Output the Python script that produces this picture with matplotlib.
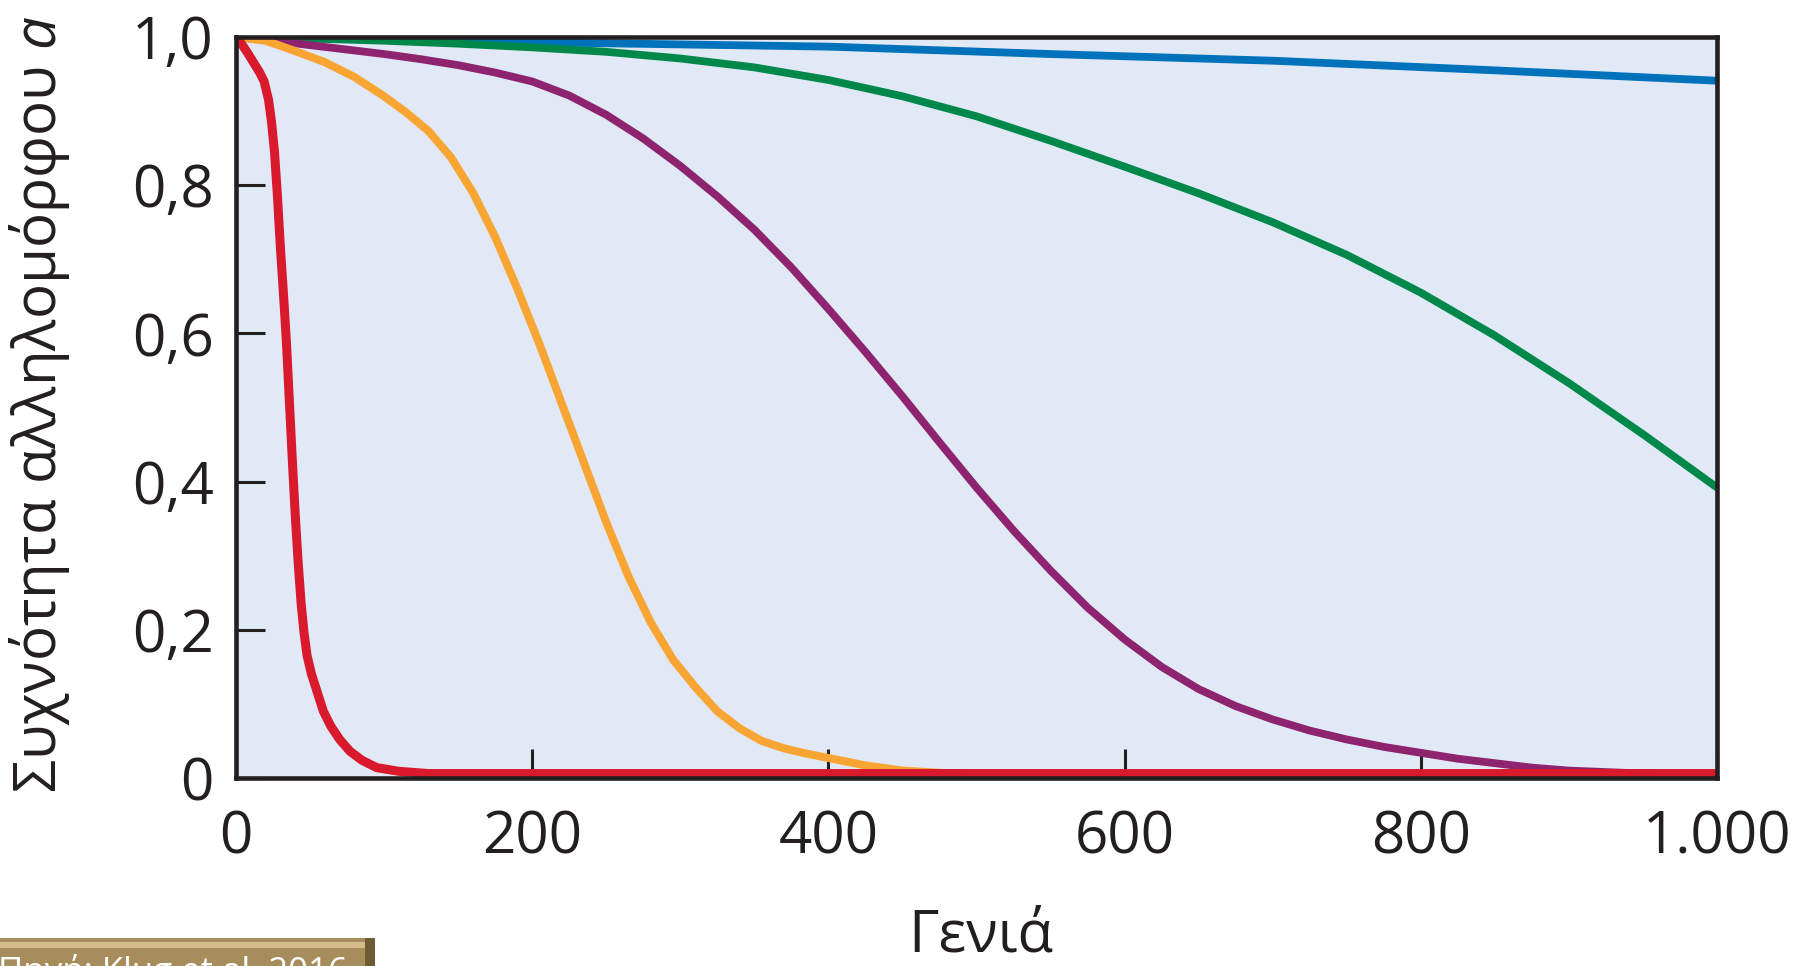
import numpy as np
import matplotlib
matplotlib.use("Agg")
import matplotlib.pyplot as plt
from matplotlib.patches import Rectangle

plt.rcParams['font.family'] = ['Open Sans', 'DejaVu Sans']
plt.rcParams['mathtext.fontset'] = 'custom'
plt.rcParams['mathtext.it'] = 'Open Sans:italic'
plt.rcParams['mathtext.rm'] = 'Open Sans'

# generations / allele frequency
blue_x = [0, 200, 400, 550, 700, 850, 1000]
blue_y = [1.0, 0.993, 0.987, 0.977, 0.968, 0.955, 0.941]

green_x = [0, 50, 100, 150, 200, 250, 300, 350, 400, 450, 500, 550, 600, 650, 700,
           750, 800, 850, 900, 950, 1000]
green_y = [1.0, 0.998, 0.995, 0.991, 0.986, 0.98, 0.971, 0.959, 0.942, 0.92, 0.893,
           0.86, 0.825, 0.789, 0.75, 0.706, 0.655, 0.597, 0.533, 0.464, 0.392]

purple_x = [0, 25, 50, 75, 100, 125, 150, 175, 200, 225, 250, 275, 300, 325, 350, 375,
            400, 425, 450, 475, 500, 525, 550, 575, 600, 625, 650, 675, 700, 725, 750,
            775, 800, 825, 850, 875, 900, 950, 1000]
purple_y = [1.0, 0.995, 0.989, 0.983, 0.977, 0.97, 0.962, 0.952, 0.94, 0.921, 0.895,
            0.863, 0.826, 0.785, 0.74, 0.689, 0.633, 0.575, 0.515, 0.453, 0.392, 0.334,
            0.28, 0.23, 0.187, 0.15, 0.12, 0.097, 0.079, 0.064, 0.052, 0.042, 0.034,
            0.026, 0.02, 0.014, 0.01, 0.006, 0.004]

orange_x = [0, 20, 40, 60, 80, 100, 115, 130, 145, 160, 175, 190, 205, 220, 235, 250,
            265, 280, 295, 310, 325, 340, 355, 370, 385, 400, 425, 450, 475, 500, 550, 1000]
orange_y = [1.0, 0.995, 0.981, 0.966, 0.946, 0.92, 0.898, 0.873, 0.838, 0.79, 0.73,
            0.66, 0.585, 0.505, 0.425, 0.345, 0.272, 0.21, 0.16, 0.123, 0.09, 0.067,
            0.05, 0.04, 0.033, 0.027, 0.017, 0.01, 0.007, 0.005, 0.004, 0.004]

red_x = [0, 4, 8, 12, 16, 19, 22, 24, 26, 28, 30, 32, 34, 36, 38, 40, 42, 44, 46, 48,
         51, 55, 59, 64, 70, 77, 85, 95, 110, 130, 1000]
red_y = [1.0, 0.99, 0.978, 0.965, 0.952, 0.94, 0.915, 0.885, 0.845, 0.785, 0.715, 0.655,
         0.59, 0.51, 0.43, 0.355, 0.29, 0.235, 0.195, 0.165, 0.14, 0.115, 0.09, 0.07,
         0.052, 0.036, 0.024, 0.014, 0.009, 0.006, 0.006]

xticks = [0, 200, 400, 600, 800, 1000]
xlabels = ["0", "200", "400", "600", "800", "1.000"]
yticks = [0, 0.2, 0.4, 0.6, 0.8, 1.0]
ylabels = ["0", "0,2", "0,4", "0,6", "0,8", "1,0"]

W, H = 1812, 966
fig = plt.figure(figsize=(W / 100, H / 100), dpi=100)
ax = fig.add_axes([236 / W, 1 - 778 / H, (1717 - 236) / W, (778 - 37) / H])
ax.set_facecolor("#E1E9F6")

style = dict(solid_capstyle="butt", solid_joinstyle="round")
ax.plot(blue_x, blue_y, color="#0072BC", lw=5.6, **style)
ax.plot(green_x, green_y, color="#00884A", lw=5.6, **style)
ax.plot(purple_x, purple_y, color="#8E2470", lw=5.6, **style)
ax.plot(orange_x, orange_y, color="#F9A533", lw=5.8, **style)
ax.plot(red_x, red_y, color="#D9192C", lw=6.5, **style)

ax.set_xlim(0, 1000)
ax.set_ylim(0, 1.0)
ax.set_xticks(xticks)
ax.set_xticklabels(xlabels)
ax.set_yticks(yticks)
ax.set_yticklabels(ylabels)
ax.tick_params(direction="in", length=21, width=2.2, color="#231F20",
               labelsize=42, labelcolor="#231F20")
ax.tick_params(axis="x", pad=22)
ax.tick_params(axis="y", pad=16)
for s in ax.spines.values():
    s.set_linewidth(3.3)
    s.set_color("#231F20")
    s.set_zorder(5)

fig.text(40 / W, 1 - 404 / H, "Συχνότητα αλληλομόρφου $a$", rotation=90,
         ha="center", va="center", fontsize=42, color="#231F20")
fig.text(981 / W, 1 - 936 / H, "Γενιά", ha="center", va="center",
         fontsize=42, color="#231F20")

# source badge, cut by the lower edge
fig.patches.append(Rectangle((0, 0), 375 / W, 28 / H, transform=fig.transFigure,
                             facecolor="#A88D5C", edgecolor="none"))
fig.patches.append(Rectangle((0, 18 / H), 372 / W, 6 / H, transform=fig.transFigure,
                             facecolor="#D3BC8A", edgecolor="none"))
fig.patches.append(Rectangle((365 / W, 0), 10 / W, 28 / H, transform=fig.transFigure,
                             facecolor="#6E5A35", edgecolor="none"))
fig.text(348 / W, 12 / H, "Πηγή: Klug et al. 2016", ha="right", va="top",
         fontsize=25, color="white")

fig.savefig("out.png", dpi=100)
